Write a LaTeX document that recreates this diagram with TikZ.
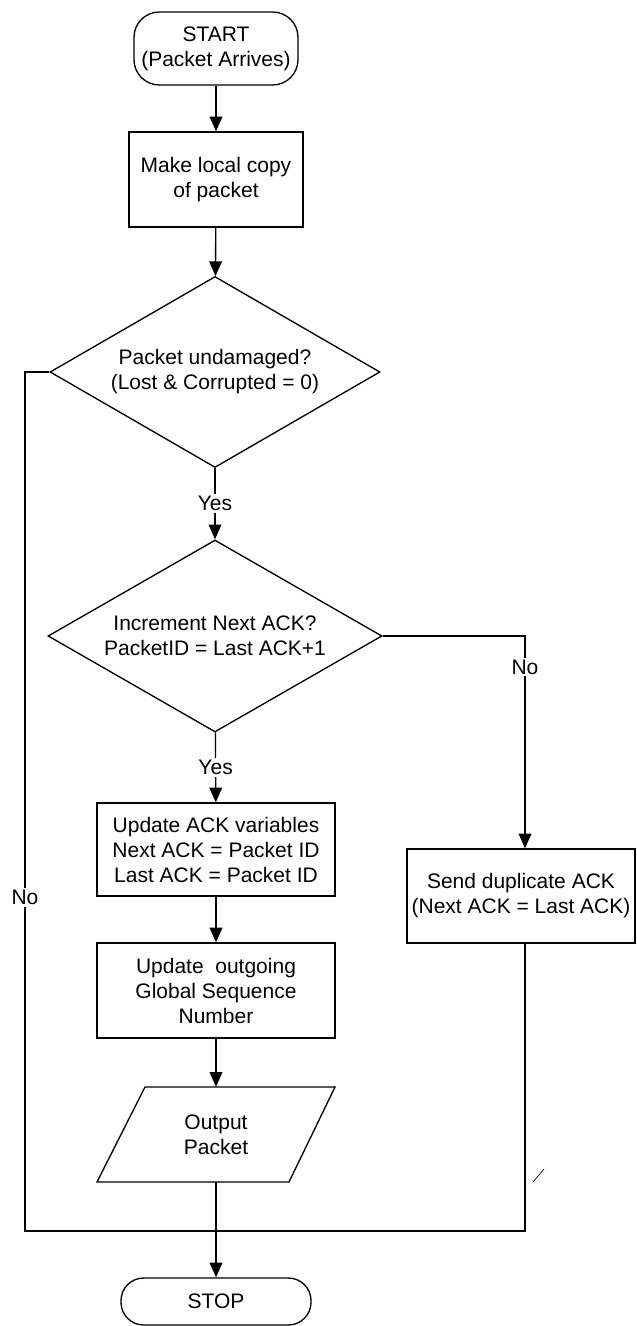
\documentclass[tikz,border=0pt]{standalone}
\usepackage{fontspec}
\setmainfont{Liberation Sans}
\usetikzlibrary{shapes.geometric,arrows.meta,calc}
\begin{document}
\begin{tikzpicture}[x=0.75pt,y=-0.75pt,
  every node/.style={font=\fontsize{15.75pt}{18.75pt}\selectfont, align=center},
  flow/.style={line width=1pt},
  arr/.style={flow,-{Triangle[length=11pt,width=9.5pt]}},
  term/.style={draw,line width=1pt,rectangle,rounded corners=#1,inner sep=0pt},
  proc/.style={draw,line width=1pt,rectangle,inner sep=0pt},
  decide/.style={draw,line width=1pt,diamond,inner sep=0pt},
  lbl/.style={fill=white,inner sep=1.5pt}]
\useasboundingbox (0,0) rectangle (636,1326);

% main column
\node[term=19pt, minimum width=123pt, minimum height=54.75pt] (start) at (216,48.5) {START\\(Packet Arrives)};
\node[proc, minimum width=130.5pt, minimum height=71.25pt] (copy) at (216,179.5) {Make local copy\\of packet};
\node[decide, aspect=1.73, minimum width=247.5pt, minimum height=143.25pt] (d1) at (215,372) {Packet undamaged?\\(Lost \& Corrupted = 0)};
\node[decide, aspect=1.74, minimum width=250.5pt, minimum height=144pt] (d2) at (215,636) {Increment Next ACK?\\PacketID = Last ACK+1};
\node[proc, minimum width=178.5pt, minimum height=69.75pt] (upd) at (216,849.5) {Update ACK variables\\Next ACK = Packet ID\\Last ACK = Packet ID};
\node[proc, minimum width=178.5pt, minimum height=71.25pt] (seq) at (216,990.5) {Update~ outgoing\\Global Sequence\\Number};
\node[minimum width=100pt, minimum height=71.25pt, inner sep=0pt] (out) at (216,1134.5) {Output\\Packet};
\draw[line width=1pt] (145,1087) -- (335,1087) -- (289,1182) -- (97,1182) -- cycle;
\node[term=17pt, minimum width=142.5pt, minimum height=35.25pt] (stop) at (216,1301.5) {STOP};

% side branch
\node[proc, minimum width=171pt, minimum height=70.5pt] (dup) at (521,896) {Send duplicate ACK\\(Next ACK = Last ACK)};

\coordinate (join) at (216,1231);
\coordinate (rc) at (525,636);
\coordinate (lc) at (25,372);

% connectors
\draw[arr] (start) -- (copy);
\draw[arr] (copy) -- (d1);
\draw[arr] (d1) -- node[lbl]{Yes} (d2);
\draw[arr] (d2) -- node[lbl]{Yes} (upd);
\draw[arr] (upd) -- (seq);
\draw[arr] (seq) -- (out);
\draw[arr] (out) -- (stop);

\draw[arr] (d2.east) -- (rc) -- node[lbl,pos=0.146]{No} (rc |- dup.north);
\draw[flow] (rc |- dup.south) |- (join);
\draw[flow] (d1.west) -- (lc) |- node[lbl,pos=0.306]{No} (join);

% small stroke beside the right branch
\draw[line width=0.5pt] (533,1182) -- (544,1169);
\end{tikzpicture}
\end{document}
